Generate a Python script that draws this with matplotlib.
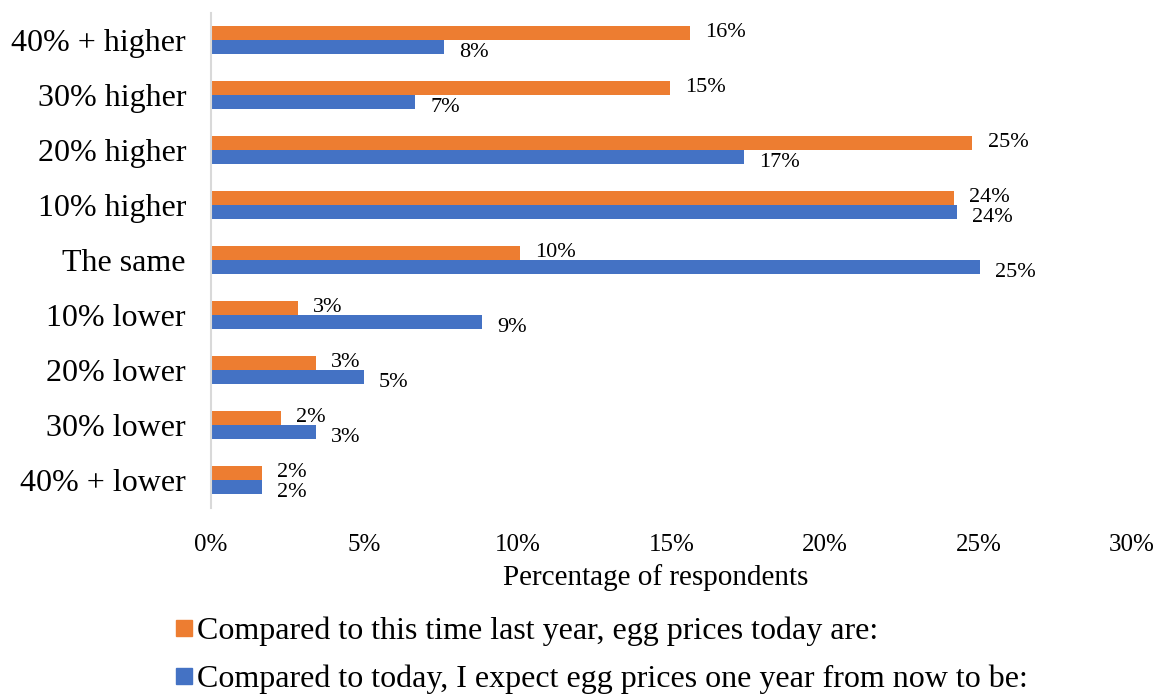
import matplotlib
matplotlib.use("Agg")
import matplotlib.pyplot as plt
from matplotlib.lines import Line2D

categories = ["40% + higher", "30% higher", "20% higher", "10% higher", "The same",
              "10% lower", "20% lower", "30% lower", "40% + lower"]
last_year = [15.6, 14.95, 24.8, 24.2, 10.07, 2.83, 3.42, 2.28, 1.66]
next_year = [7.6, 6.65, 17.36, 24.3, 25.05, 8.83, 4.98, 3.42, 1.66]
last_labels = ["16%", "15%", "25%", "24%", "10%", "3%", "3%", "2%", "2%"]
next_labels = ["8%", "7%", "17%", "24%", "25%", "9%", "5%", "3%", "2%"]
series_names = ["Compared to this time last year, egg prices today are:",
                "Compared to today, I expect egg prices one year from now to be:"]
xticks = [0, 5, 10, 15, 20, 25, 30]
xtick_labels = ["0%", "5%", "10%", "15%", "20%", "25%", "30%"]

ORANGE = "#ED7D31"
BLUE = "#4472C4"

plt.rcParams["font.family"] = ["Liberation Serif", "DejaVu Serif"]

fig = plt.figure(figsize=(11.58, 6.96), dpi=100)
ax = fig.add_axes([211/1158, 1 - 507.5/696, (1132-211)/1158, 495/696])

y = list(range(len(categories)))
h = 0.255
yo = [v - h/2 for v in y]
yb = [v + h/2 for v in y]
ax.barh(yo, last_year, height=h, color=ORANGE)
ax.barh(yb, next_year, height=h, color=BLUE)

for yy, v, lab in zip(yo, last_year, last_labels):
    ax.annotate(lab, (v, yy), xytext=(11, 0), textcoords="offset points",
                ha="left", va="center", fontsize=16)
for yy, v, lab in zip(yb, next_year, next_labels):
    ax.annotate(lab, (v, yy), xytext=(11, -4), textcoords="offset points",
                ha="left", va="center", fontsize=16)

ax.set_ylim(len(categories) - 0.5, -0.5)
ax.set_xlim(0, 30)
ax.set_yticks(y)
ax.set_yticklabels(categories, fontsize=23)
ax.set_xticks(xticks)
ax.set_xticklabels(xtick_labels, fontsize=18)
ax.tick_params(axis="both", length=0)
ax.tick_params(axis="y", pad=18)
ax.tick_params(axis="x", pad=19)
for s in ["top", "right", "bottom"]:
    ax.spines[s].set_visible(False)
ax.spines["left"].set_color("#D9D9D9")
ax.spines["left"].set_linewidth(1.5)
ax.set_xlabel("Percentage of respondents", fontsize=21, labelpad=2)
ax.xaxis.set_label_coords(0.483, -0.115)

handles = [Line2D([], [], marker="s", color=ORANGE, linestyle="none", markersize=12),
           Line2D([], [], marker="s", color=BLUE, linestyle="none", markersize=12)]
fig.legend(handles, series_names, loc="upper left", bbox_to_anchor=(176/1158, 1 - 617/696),
           frameon=False, fontsize=23, handlelength=0.5, handletextpad=0.15,
           labelspacing=0.56, borderaxespad=0, borderpad=0)

fig.savefig("out.png", dpi=100)
